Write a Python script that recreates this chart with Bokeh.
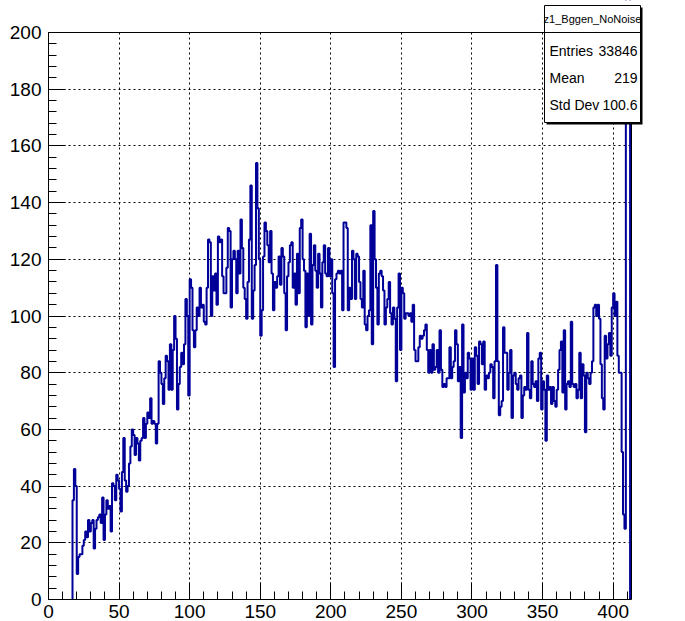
import numpy as np
from bokeh.plotting import figure
from bokeh.models import Range1d, Label, FixedTicker
from bokeh.embed import file_html
from bokeh.resources import INLINE

# ---------------- data ----------------
hist_title = "z1_Bggen_NoNoise"
first_bin = 17          # lower edge of first filled bin (bin width 1)
counts = [
    35, 46, 40, 9, 15, 16, 16, 19, 21, 24, 22, 28, 24, 27, 28, 18, 25, 28, 29, 30,
    27, 36, 21, 30, 35, 32, 33, 24, 41, 40, 35, 44, 42, 39, 31, 45,
    57, 42, 38, 40, 48, 54, 60, 58, 51, 57, 55, 49, 56, 57, 64, 57, 62, 66, 64, 71,
    62, 63, 62, 55, 62, 84, 80, 76, 69, 78, 86, 84, 74, 90, 74, 88, 100, 92, 67, 76,
    82, 87, 83, 90, 106, 100, 72, 113, 110, 95, 89, 95, 103, 100, 110, 103, 104, 98, 97, 110,
    127, 126, 100, 114, 109, 115, 104, 128, 126, 127, 114, 108, 108, 117, 131, 130, 103, 120, 123,
    120, 108, 123, 115, 134, 124, 110, 106, 99, 112, 127, 146, 99, 109, 118, 154, 138, 120, 93, 102,
    121, 133, 130, 125, 119, 130, 115, 102, 112, 110, 114, 121, 111, 124, 121, 108, 95, 114, 119,
    125, 126, 110, 115, 104, 122, 108, 131, 134, 120, 116, 96, 115, 100, 129, 97, 118, 125, 116, 110,
    122, 115, 103, 119, 125, 115, 114, 124, 114, 120, 108, 82, 113, 115, 116, 115, 116, 102, 133,
    133, 131, 102, 110, 106, 123, 120, 106, 122, 121, 112, 106, 103, 116, 97, 95, 100, 102, 132, 90,
    137, 120, 110, 97, 115, 116, 114, 109, 97, 103, 106, 112, 101, 97, 103, 99, 77, 103, 115,
    88, 110, 108, 99, 101, 101, 100, 101, 98, 104, 88, 84, 84, 89, 93, 92, 93, 95, 97, 88,
    80, 88, 80, 90, 81, 82, 88, 80, 95, 81, 75, 76, 75, 78, 78, 89, 78, 82, 84,
    95, 90, 77, 82, 57, 97, 73, 80, 78, 87, 85, 74, 85, 74, 89, 86, 76, 91, 90, 83,
    91, 74, 79, 78, 80, 83, 82, 71, 84, 118, 84, 65, 68, 70, 96, 87, 87, 74, 80,
    88, 64, 79, 80, 76, 74, 78, 79, 64, 72, 75, 74, 94, 74, 71, 84, 76, 75, 77, 70,
    85, 87, 67, 77, 74, 56, 79, 74, 75, 69, 75, 70, 68, 74, 81,
    88, 91, 73, 95,
    67, 76, 77, 75, 98, 76, 75, 76, 71, 74, 87, 71, 83, 79, 59, 80, 78, 76, 80, 84,
    103, 104, 100, 104, 99, 83, 71, 67, 93, 85, 90, 94, 86, 103, 108, 100, 105, 86, 80, 80,
    52, 30, 25, 250, 250, 250,
]
x_ticks = [0, 50, 100, 150, 200, 250, 300, 350, 400]
y_ticks = [0, 20, 40, 60, 80, 100, 120, 140, 160, 180, 200]
stat_names = ["Entries", "Mean", "Std Dev"]
stat_values = ["33846", "219", "100.6"]

X_MAX = 413
Y_MAX = 200
FONT = "Liberation Sans"
LINE_COLOR = "#000099"

# ---------------- geometry (pixels) ----------------
W, H = 685, 621
FL, FR, FT, FB = 48, 631, 32, 599          # histogram frame


def sx(px):
    return X_MAX * (px - FL) / (FR - FL)


def sy(py):
    return Y_MAX * (FB - py) / (FB - FT)


# the plotting frame extends up to the canvas top/right so that the stats box
# (which overhangs the histogram frame) is not clipped
p = figure(width=W, height=H, x_range=Range1d(0, sx(W)), y_range=Range1d(0, sy(0)),
           output_backend="svg", toolbar_location=None, title_location=None,
           min_border_left=FL, min_border_right=0,
           min_border_top=0, min_border_bottom=H - FB)
p.background_fill_color = "white"
p.border_fill_color = "white"
p.outline_line_color = None

# histogram outline (step)
edges = np.arange(first_bin, first_bin + len(counts) + 1)
xs = np.concatenate([[edges[0]], np.repeat(edges, 2)[1:-1], [edges[-1]]])
ys = np.concatenate([[0], np.repeat(counts, 2), [0]])
p.line(xs, ys, line_color=LINE_COLOR, line_width=2)

# white covers outside the histogram frame (clip grid + overflow)
XE, YE = sx(W) + 5, sy(0) + 5
p.quad(left=[0, X_MAX], right=[XE, XE], bottom=[Y_MAX, 0], top=[YE, YE],
       fill_color="white", line_color=None)
# histogram frame
p.quad(left=[0], right=[X_MAX], bottom=[0], top=[Y_MAX], fill_color=None,
       line_color="black", line_width=1)

# ---------------- stats box (drawn as glyphs on top) ----------------
BL, BR, BT, BB = 544, 640, 5, 122
p.quad(left=[sx(BL + 2)], right=[sx(BR + 2)], top=[sy(BT + 2)], bottom=[sy(BB + 2)],
       fill_color="black", line_color=None)
p.quad(left=[sx(BL)], right=[sx(BR)], top=[sy(BT)], bottom=[sy(BB)],
       fill_color="white", line_color=None)
bx = [sx(BL), sx(BR), sx(BR), sx(BL), sx(BL)]
by = [sy(BT), sy(BT), sy(BB), sy(BB), sy(BT)]
p.multi_line(xs=[bx, [sx(BL), sx(BR)]], ys=[by, [sy(FT), sy(FT)]],
             line_color="black", line_width=1)

p.add_layout(Label(x=sx((BL + BR) / 2), y=sy(18.5), text=hist_title, text_align="center",
                   text_baseline="middle", text_font=FONT, text_font_size="11px",
                   text_color="black"))
row_y = [50, 77, 104]
for name, val, ry in zip(stat_names, stat_values, row_y):
    p.add_layout(Label(x=sx(549), y=sy(ry), text=name, text_align="left",
                       text_baseline="middle", text_font=FONT, text_font_size="14px",
                       text_color="black"))
    p.add_layout(Label(x=sx(637), y=sy(ry), text=val, text_align="right",
                       text_baseline="middle", text_font=FONT, text_font_size="14px",
                       text_color="black"))

# axes
p.xaxis.ticker = FixedTicker(ticks=x_ticks, minor_ticks=list(range(0, X_MAX + 1, 10)))
p.yaxis.ticker = FixedTicker(ticks=y_ticks, minor_ticks=list(range(0, Y_MAX + 1, 4)))
p.xaxis.bounds = (0, X_MAX)
p.yaxis.bounds = (0, Y_MAX)
for ax in (p.xaxis, p.yaxis):
    ax.axis_line_color = "black"
    ax.major_tick_line_color = "black"
    ax.minor_tick_line_color = "black"
    ax.major_tick_in = 17
    ax.major_tick_out = 0
    ax.minor_tick_in = 8
    ax.minor_tick_out = 0
    ax.major_label_text_font = FONT
    ax.major_label_text_font_size = "19px"
    ax.major_label_text_color = "black"
p.xaxis.major_label_standoff = 5
p.yaxis.major_label_standoff = 7

# grid
for g in (p.xgrid, p.ygrid):
    g.grid_line_color = "black"
    g.grid_line_dash = "2 3"
    g.grid_line_width = 1

open("out.html", "w").write(file_html(p, INLINE))
